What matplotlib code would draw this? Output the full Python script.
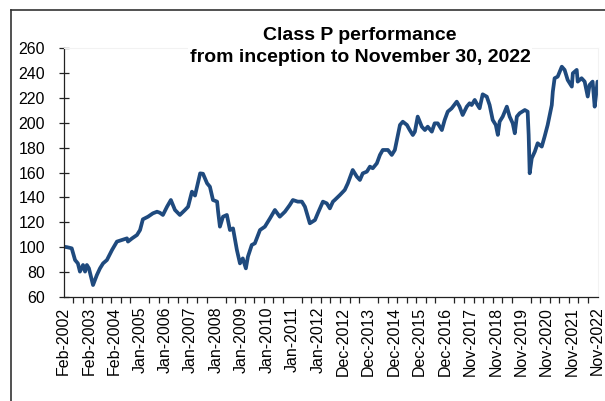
import numpy as np
import matplotlib
matplotlib.use("Agg")
import matplotlib.pyplot as plt
from matplotlib.lines import Line2D

# decimal years and fund values
years = [2002.12, 2002.26, 2002.44, 2002.57, 2002.68, 2002.76, 2002.88, 2002.96, 2003.03, 2003.11,
         2003.27, 2003.42, 2003.54, 2003.66, 2003.81, 2004.01, 2004.20, 2004.39, 2004.59, 2004.63,
         2004.79, 2004.98, 2005.10, 2005.21, 2005.41, 2005.60, 2005.76, 2005.87, 2005.99, 2006.15,
         2006.30, 2006.46, 2006.65, 2006.85, 2006.97, 2007.12, 2007.24, 2007.44, 2007.55, 2007.71,
         2007.82, 2007.94, 2008.10, 2008.14, 2008.21, 2008.33, 2008.48, 2008.60, 2008.72, 2008.87,
         2008.99, 2009.10, 2009.22, 2009.30, 2009.45, 2009.57, 2009.77, 2009.96, 2010.16, 2010.35,
         2010.54, 2010.74, 2010.93, 2011.05, 2011.24, 2011.40, 2011.52, 2011.71, 2011.91, 2012.02,
         2012.22, 2012.37, 2012.49, 2012.61, 2012.68, 2012.88, 2013.07, 2013.19, 2013.38, 2013.54,
         2013.66, 2013.77, 2013.93, 2014.05, 2014.16, 2014.32, 2014.44, 2014.55, 2014.75, 2014.90,
         2015.02, 2015.10, 2015.22, 2015.33, 2015.49, 2015.60, 2015.72, 2015.80, 2015.91, 2016.07,
         2016.19, 2016.30, 2016.46, 2016.57, 2016.69, 2016.85, 2016.96, 2017.08, 2017.23, 2017.43,
         2017.54, 2017.66, 2017.82, 2017.93, 2018.01, 2018.13, 2018.24, 2018.32, 2018.44, 2018.60,
         2018.71, 2018.83, 2018.95, 2019.03, 2019.10, 2019.22, 2019.38, 2019.49, 2019.61, 2019.69,
         2019.77, 2019.88, 2020.08, 2020.19, 2020.23, 2020.27, 2020.35, 2020.47, 2020.58, 2020.74,
         2020.85, 2020.97, 2021.13, 2021.17, 2021.24, 2021.36, 2021.52, 2021.63, 2021.75, 2021.91,
         2021.95, 2022.10, 2022.14, 2022.29, 2022.41, 2022.53, 2022.60, 2022.72, 2022.80, 2022.87,
         2022.91]
values = [100.4, 100.0, 99.1, 89.7, 87.0, 80.4, 85.7, 80.4, 85.7, 83.0,
          69.6, 77.7, 83.0, 87.0, 89.7, 97.8, 104.5, 105.8, 107.1, 104.5,
          107.1, 109.8, 113.8, 122.4, 124.5, 127.2, 128.5, 127.7, 125.9, 132.5,
          137.9, 129.9, 125.9, 129.9, 132.5, 144.6, 141.5, 159.3, 159.0, 151.3,
          148.6, 137.9, 136.6, 128.5, 116.5, 124.5, 125.9, 113.8, 115.1, 97.8,
          87.0, 91.0, 83.0, 92.4, 101.8, 103.1, 113.8, 116.5, 123.2, 129.9,
          124.5, 128.5, 133.9, 137.9, 136.6, 136.6, 132.5, 119.2, 121.8, 127.2,
          136.6, 135.2, 131.2, 136.6, 137.9, 141.9, 146.0, 151.3, 162.0, 156.7,
          154.0, 159.3, 160.7, 164.7, 163.4, 167.4, 174.1, 178.1, 178.1, 174.1,
          178.1, 186.1, 198.2, 200.8, 198.2, 194.1, 190.1, 192.8, 204.9, 196.8,
          194.1, 196.8, 192.8, 199.5, 199.5, 194.1, 202.2, 208.9, 211.5, 216.9,
          212.9, 206.2, 212.9, 215.6, 214.2, 218.3, 214.2, 211.6, 222.8, 220.9,
          214.2, 202.2, 198.2, 190.2, 200.9, 204.9, 212.9, 204.9, 199.5, 191.5,
          204.9, 207.6, 210.2, 208.9, 190.2, 159.4, 171.4, 176.8, 183.5, 180.8,
          188.8, 198.2, 214.2, 224.9, 235.7, 237.0, 245.0, 242.4, 234.3, 229.0,
          239.7, 242.4, 233.0, 235.7, 233.0, 221.0, 230.3, 233.0, 212.9, 225.0,
          233.0]

tick_labels = ["Feb-2002", "Feb-2003", "Feb-2004", "Jan-2005", "Jan-2006", "Jan-2007",
               "Jan-2008", "Jan-2009", "Jan-2010", "Jan-2011", "Jan-2012", "Dec-2012",
               "Dec-2013", "Dec-2014", "Dec-2015", "Dec-2016", "Nov-2017", "Nov-2018",
               "Nov-2019", "Nov-2020", "Nov-2021", "Nov-2022"]
y_ticks = [60, 80, 100, 120, 140, 160, 180, 200, 220, 240, 260]
title = "Class P performance\nfrom inception to November 30, 2022"

plt.rcParams['font.family'] = ['Liberation Sans', 'DejaVu Sans']

W, H = 605, 401
fig = plt.figure(figsize=(W / 100, H / 100), dpi=100)
ax = fig.add_axes([63.5 / W, (H - 297) / H, (597.5 - 63.5) / W, (297 - 48) / H])

line_color = "#1F4A7E"
ax.plot(years, values, color=line_color, lw=2.7, solid_joinstyle='round',
        solid_capstyle='round')

x0, x1 = years[0], years[-1]
ax.set_xlim(x0, x1)
ax.set_ylim(60, 260)

ax.set_yticks(y_ticks)
ax.tick_params(axis='y', direction='inout', length=6.5, width=0.9, pad=10,
               labelsize=11.5, colors='#222222', labelcolor='black')

ax.set_xticks(np.linspace(x0, x1, len(tick_labels)))
ax.set_xticklabels(tick_labels, rotation=90)
ax.tick_params(axis='x', which='major', length=0, pad=7, labelsize=11.5, labelcolor='black')
ax.set_xticks(np.linspace(x0, x1, 57), minor=True)
ax.tick_params(axis='x', which='minor', direction='out', length=4, width=0.9, colors='#222222')

for s in ['top', 'right']:
    ax.spines[s].set_color('#f2f2f2')
    ax.spines[s].set_linewidth(0.8)
for s in ['left', 'bottom']:
    ax.spines[s].set_color('#222222')
    ax.spines[s].set_linewidth(0.9)

fig.text(360 / W, 1 - 27 / H, title, ha='center', va='top', fontsize=14,
         fontweight='bold', linespacing=1.38,
         bbox=dict(facecolor='white', edgecolor='none', pad=1))

# outer frame (left and top edges visible)
fig.add_artist(Line2D([11 / W, 11 / W], [1 - 10 / H, 0], transform=fig.transFigure,
                      color='#333333', lw=1.2))
fig.add_artist(Line2D([11 / W, 1], [1 - 10 / H, 1 - 10 / H], transform=fig.transFigure,
                      color='#333333', lw=1.2))

fig.savefig("out.png", dpi=100)
